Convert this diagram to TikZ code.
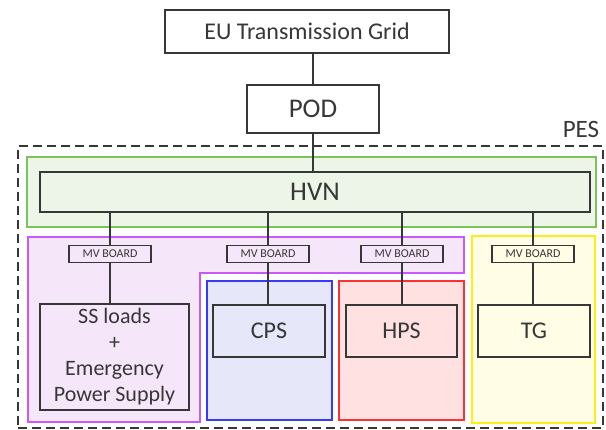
\documentclass[tikz,border=0pt]{standalone}
\usepackage{fontspec}
\setmainfont{Carlito}
\usepackage{tikz}
\usetikzlibrary{positioning,calc}
\usepackage{xcolor}
\definecolor{inkgray}{RGB}{55,55,55}
\definecolor{hvngreen}{RGB}{125,195,90}
\definecolor{hvnbg}{RGB}{236,245,232}
\definecolor{auxpurple}{RGB}{200,90,250}
\definecolor{auxbg}{RGB}{246,230,250}
\definecolor{cpsblue}{RGB}{50,60,250}
\definecolor{cpsbg}{RGB}{230,232,250}
\definecolor{hpsred}{RGB}{250,50,50}
\definecolor{hpsbg}{RGB}{255,225,225}
\definecolor{tgyellow}{RGB}{250,240,20}
\definecolor{tgbg}{RGB}{255,253,230}

\begin{document}
\begin{tikzpicture}[x=1pt,y=-1pt,
    box/.style={draw=inkgray,line width=1.5pt,minimum width=112pt,minimum height=52pt,inner sep=0pt,align=center,text=inkgray,font=\fontsize{22}{26}\selectfont},
    board/.style={draw=inkgray,line width=1.2pt,minimum width=82pt,minimum height=17pt,inner sep=0pt,text=inkgray,font=\fontsize{12}{12}\selectfont},
    group/.style={line width=2pt,inner sep=0pt},
    wire/.style={draw=inkgray,line width=1.2pt}
]
\useasboundingbox (0,0) rectangle (606,430);

% plant boundary
\node[draw=inkgray,dashed,line width=1.5pt,dash pattern=on 9pt off 5pt,minimum width=585pt,minimum height=282pt,inner sep=0pt] (pes) at (310.5,287) {};
\node[text=inkgray,font=\fontsize{25}{25}\selectfont] (peslbl) at (581,129) {PES};

% external grid
\node[box,minimum width=284pt,minimum height=43pt,font=\fontsize{24}{28}\selectfont] (grid) at (307,31.5) {EU Transmission Grid};
\node[box,minimum width=132pt,minimum height=48pt,font=\fontsize{27}{30}\selectfont] (pod) at (313,109) {POD};

% coloured areas
\node[group,draw=hvngreen,fill=hvnbg,minimum width=569pt,minimum height=70pt] (hvnarea) at (311.5,192) {};
\draw[group,draw=auxpurple,fill=auxbg] (28,237) -- (464,237) -- (464,273) -- (200,273) -- (200,422) -- (28,422) -- cycle;
\node[group,draw=cpsblue,fill=cpsbg,minimum width=125pt,minimum height=139pt] (cpsarea) at (269.5,350.5) {};
\node[group,draw=hpsred,fill=hpsbg,minimum width=125pt,minimum height=139pt] (hpsarea) at (401.5,350.5) {};
\node[group,draw=tgyellow,fill=tgbg,minimum width=123pt,minimum height=187pt] (tgarea) at (533.5,329.5) {};

% main boxes
\node[box,minimum width=550pt,minimum height=40pt,fill=hvnbg,font=\fontsize{27}{30}\selectfont] (hvn) at (315,192) {HVN};
\node[box,minimum width=149pt,minimum height=106pt] (ss) at (114.5,357) {SS loads\\+\\Emergency\\Power Supply};
\node[box,font=\fontsize{24}{28}\selectfont] (cps) at (269,331) {CPS};
\node[box,minimum width=111pt,font=\fontsize{24}{28}\selectfont] (hps) at (401.5,331) {HPS};
\node[box,font=\fontsize{24}{28}\selectfont] (tg) at (534,331) {TG};

% MV boards
\node[board] (mvss) at (110,254) {MV BOARD};
\node[board] (mvcps) at (268,254) {MV BOARD};
\node[board] (mvhps) at (402,254) {MV BOARD};
\node[board] (mvtg) at (533,254) {MV BOARD};

% connections
\draw[wire] (grid.south -| pod.north) -- (pod.north);
\draw[wire] (pod.south) -- (pod.south |- hvn.north);
\foreach \b/\t in {mvss/ss,mvcps/cps,mvhps/hps,mvtg/tg}{
  \draw[wire] (\b.north) -- (\b.north |- hvn.south);
  \draw[wire] (\b.south) -- (\b.south |- \t.north);
}
\end{tikzpicture}
\end{document}
